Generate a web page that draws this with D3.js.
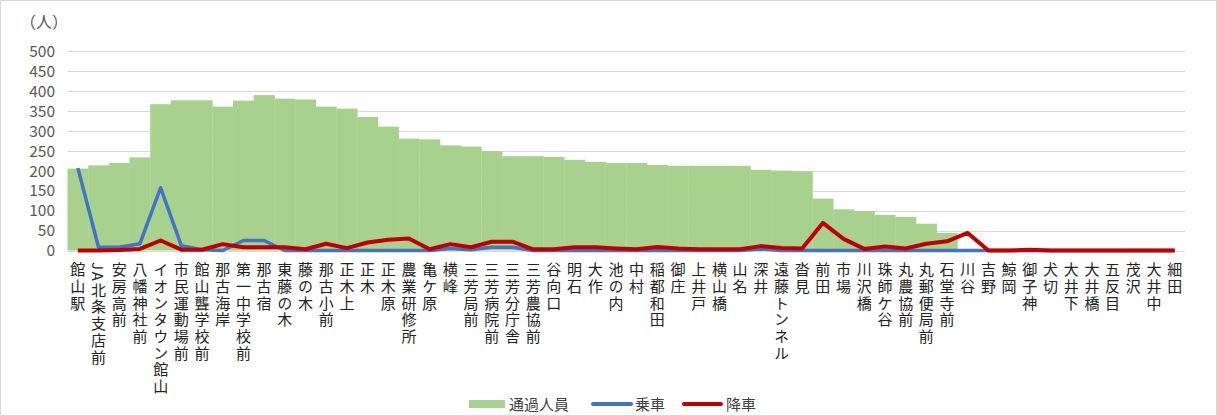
<!DOCTYPE html>
<html><head><meta charset="utf-8">
<script src="https://cdn.jsdelivr.net/npm/d3@7"></script>
<style>
html,body{margin:0;padding:0;background:#fff;}
svg{display:block;font-family:"Noto Sans CJK JP","Noto Sans",sans-serif;}
.vlab{writing-mode:vertical-rl;text-orientation:mixed;}
</style></head><body>
<svg id="c" width="1217" height="416"></svg>
<script>
const stops = ["館山駅","JA北条支店前","安房高前","八幡神社前","イオンタウン館山","市民運動場前","館山聾学校前","那古海岸","第一中学校前","那古宿","東藤の木","藤の木","那古小前","正木上","正木","正木原","農業研修所","亀ケ原","横峰","三芳局前","三芳病院前","三芳分庁舎","三芳農協前","谷向口","明石","大作","池の内","中村","稲都和田","御庄","上井戸","横山橋","山名","深井","遠藤トンネル","沓見","前田","市場","川沢橋","珠師ケ谷","丸農協前","丸郵便局前","石堂寺前","川谷","吉野","鯨岡","御子神","犬切","大井下","大井橋","五反目","茂沢","大井中","細田"];
const passing = [205,213,219,233,366,376,376,360,375,389,380,378,360,355,334,310,280,278,263,260,249,236,236,234,227,222,219,219,214,212,212,212,212,202,200,198,130,103,99,89,84,67,44,0,0,0,0,0,0,0,0,0,0,0];
const boarding = [206,8,8,17,157,12,2,0,25,25,0,0,0,0,0,0,0,0,5,2,8,8,0,0,0,0,0,0,0,0,0,0,0,4,0,0,0,0,0,0,0,0,0,0,0,0,0,0,0,0,0,0,0,0];
const alighting = [0,0,1,4,25,2,2,16,8,8,8,3,17,6,20,27,30,3,16,8,22,22,3,3,8,8,5,3,9,5,3,3,3,11,6,5,69,29,4,10,5,17,23,44,0,0,2,0,0,0,0,0,0,0];
const yTicks = [0,50,100,150,200,250,300,350,400,450,500];
const legendLabels = ["通過人員","乗車","降車"];
const colors = {pass:"#A9D18E", board:"#4472C4", alight:"#C00000"};

const svg = d3.select("#c");
svg.append("rect").attr("x",0.5).attr("y",0.5).attr("width",1216).attr("height",415)
  .attr("fill","#fff").attr("stroke","#d9d9d9");

const x = d3.scaleBand().domain(stops).range([67.5,1185]).padding(0);
const y = d3.scaleLinear().domain([0,500]).range([250.5,50.7]);

// gridlines
svg.append("g").selectAll("line").data(yTicks).join("line")
  .attr("x1",67.5).attr("x2",1185).attr("y1",d=>Math.round(y(d))+0.5).attr("y2",d=>Math.round(y(d))+0.5)
  .attr("stroke","#d9d9d9").attr("stroke-width",1);

// y axis labels
const yAxis = d3.axisLeft(y).tickValues(yTicks).tickSize(0).tickPadding(0);
const ya = svg.append("g").attr("transform","translate(55,0)").call(yAxis);
ya.select(".domain").remove();
ya.selectAll("text").attr("font-size",15.5).attr("fill","#595959")
  .attr("font-family","'Noto Sans CJK JP',sans-serif").attr("dy","0.35em");

svg.append("text").attr("x",20).attr("y",28).attr("font-size",16).attr("fill","#595959").text("（人）");

// bars
svg.append("g").selectAll("rect").data(stops).join("rect")
  .attr("x",d=>x(d)).attr("width",x.bandwidth()+0.3)
  .attr("y",(d,i)=>y(passing[i])).attr("height",(d,i)=>y(0)-y(passing[i]))
  .attr("fill",colors.pass);

const cx = d=>x(d)+x.bandwidth()/2;
const lineB = d3.line().x((d,i)=>cx(stops[i])).y(d=>y(d));
svg.append("path").datum(boarding).attr("d",lineB).attr("fill","none")
  .attr("stroke",colors.board).attr("stroke-width",3.5).attr("stroke-linejoin","round");
svg.append("path").datum(alighting).attr("d",lineB).attr("fill","none")
  .attr("stroke",colors.alight).attr("stroke-width",4).attr("stroke-linejoin","round");

// x labels (vertical)
svg.append("g").selectAll("text").data(stops).join("text")
  .attr("class","vlab")
  .attr("x",d=>cx(d)).attr("y",262)
  .attr("font-size",15).attr("fill","#222")
  .attr("letter-spacing","1.7px")
  .text(d=>d);

// legend
const lg = svg.append("g");
lg.append("rect").attr("x",469).attr("y",400).attr("width",36).attr("height",8).attr("fill",colors.pass);
lg.append("text").attr("x",509).attr("y",410).attr("font-size",15).attr("fill","#404040").text(legendLabels[0]);
lg.append("line").attr("x1",593).attr("x2",631).attr("y1",404).attr("y2",404).attr("stroke",colors.board).attr("stroke-width",4).attr("stroke-linecap","round");
lg.append("text").attr("x",635).attr("y",410).attr("font-size",15).attr("fill","#404040").text(legendLabels[1]);
lg.append("line").attr("x1",684).attr("x2",721).attr("y1",404).attr("y2",404).attr("stroke",colors.alight).attr("stroke-width",4).attr("stroke-linecap","round");
lg.append("text").attr("x",726).attr("y",410).attr("font-size",15).attr("fill","#404040").text(legendLabels[2]);
</script></body></html>
